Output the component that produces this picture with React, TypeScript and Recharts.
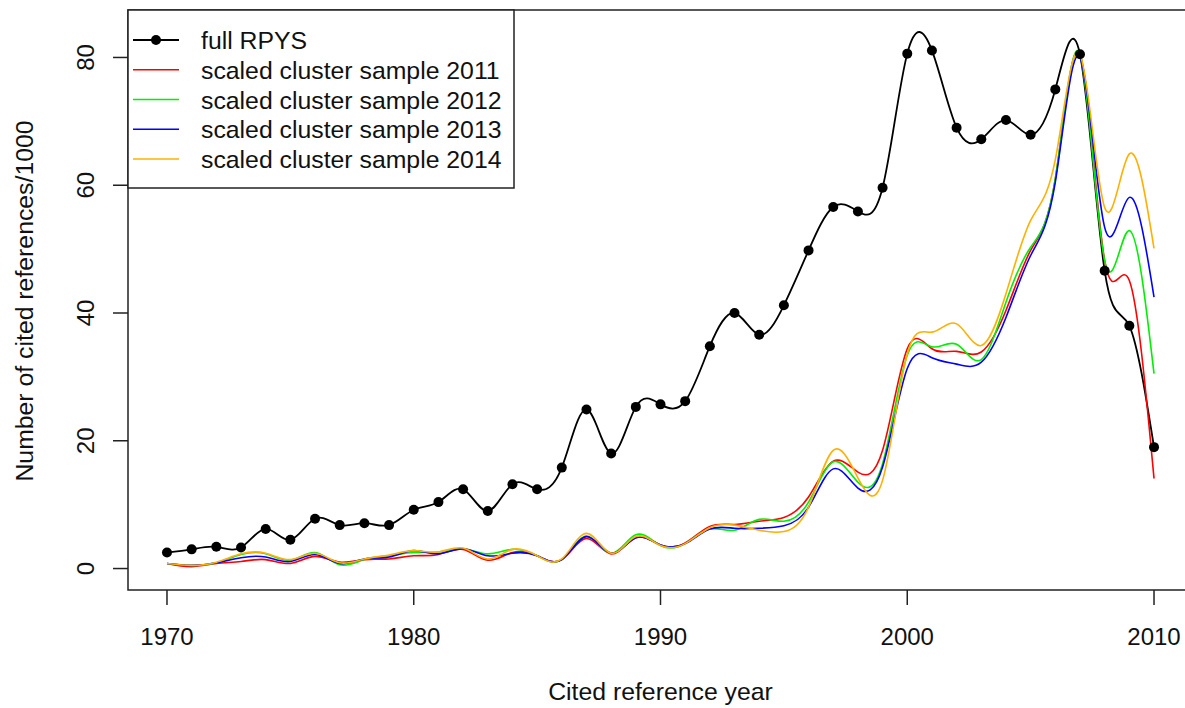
import { LineChart, Line, XAxis, YAxis, Legend, ReferenceArea } from 'recharts';

const years = [
  1970, 1971, 1972, 1973, 1974, 1975, 1976, 1977, 1978, 1979,
  1980, 1981, 1982, 1983, 1984, 1985, 1986, 1987, 1988, 1989,
  1990, 1991, 1992, 1993, 1994, 1995, 1996, 1997, 1998, 1999,
  2000, 2001, 2002, 2003, 2004, 2005, 2006, 2007, 2008, 2009, 2010,
];

// full RPYS (black, with points)
const fullRpys = [
  2.5, 3.0, 3.4, 3.3, 6.2, 4.5, 7.8, 6.8, 7.1, 6.8,
  9.2, 10.4, 12.4, 9.0, 13.2, 12.4, 15.8, 24.9, 18.0, 25.3,
  25.7, 26.2, 34.8, 40.0, 36.6, 41.2, 49.8, 56.6, 55.9, 59.6,
  80.6, 81.1, 69.0, 67.2, 70.2, 67.9, 75.0, 80.5, 46.6, 38.0, 19.0,
];

const sample2011 = [
  0.8, 0.3, 0.8, 1.1, 1.4, 0.8, 1.9, 1.0, 1.4, 1.5,
  2.0, 2.2, 3.0, 1.3, 2.5, 2.0, 1.4, 4.7, 2.3, 4.8,
  3.7, 4.0, 6.6, 6.9, 7.4, 8.0, 11.2, 16.8, 15.1, 18.5,
  34.4, 34.4, 34.0, 33.9, 40.4, 49.8, 61.0, 80.5, 48.2, 45.1, 14.1,
];

const sample2012 = [
  0.8, 0.5, 0.9, 2.2, 2.3, 1.3, 2.5, 0.6, 1.4, 2.0,
  2.5, 2.6, 3.1, 2.3, 3.0, 2.0, 1.4, 5.1, 2.4, 5.3,
  3.6, 3.9, 6.2, 6.0, 7.7, 7.4, 10.4, 16.7, 13.5, 16.4,
  33.4, 34.7, 35.1, 32.7, 41.7, 50.3, 61.0, 80.5, 48.2, 52.9, 30.5,
];

const sample2013 = [
  0.8, 0.5, 0.9, 1.7, 1.8, 1.1, 2.2, 0.8, 1.5, 1.8,
  2.8, 2.3, 3.1, 2.0, 2.4, 2.0, 1.4, 5.0, 2.4, 4.8,
  3.7, 3.9, 6.2, 6.3, 6.3, 6.7, 9.6, 15.6, 12.6, 15.9,
  31.3, 33.0, 32.0, 32.3, 39.3, 49.0, 60.5, 80.0, 53.4, 58.1, 42.5,
];

const sample2014 = [
  0.8, 0.5, 1.0, 2.3, 2.4, 1.4, 2.4, 0.9, 1.5, 2.1,
  2.8, 2.6, 3.2, 1.5, 3.0, 2.0, 1.5, 5.5, 2.4, 5.0,
  3.6, 3.9, 6.4, 6.8, 6.0, 5.8, 9.6, 18.5, 14.2, 13.8,
  33.6, 37.0, 38.3, 34.9, 43.0, 54.5, 64.0, 80.5, 56.5, 64.9, 50.1,
];

const xTicks = [1970, 1980, 1990, 2000, 2010];
const yTicks = [0, 20, 40, 60, 80];

const xDomain = [1968.42, 2011.58];
const yDomain = [-3.36, 87.43];

const series = [
  { key: 'full', name: 'full RPYS', color: '#000000' },
  { key: 's2011', name: 'scaled cluster sample 2011', color: '#ff0000' },
  { key: 's2012', name: 'scaled cluster sample 2012', color: '#00ee00' },
  { key: 's2013', name: 'scaled cluster sample 2013', color: '#0000ff' },
  { key: 's2014', name: 'scaled cluster sample 2014', color: '#ffb000' },
];

const chartData = years.map((year, i) => ({
  year,
  full: fullRpys[i],
  s2011: sample2011[i],
  s2012: sample2012[i],
  s2013: sample2013[i],
  s2014: sample2014[i],
}));

const FONT = '"Liberation Sans", Arial, Helvetica, sans-serif';

function XTick({ x, y, payload }: any) {
  return (
    <text x={x} y={y} dy="0.71em" textAnchor="middle" fontSize={24} fill="#111" fontFamily={FONT}>
      {payload.value}
    </text>
  );
}

function YTick({ x, y, payload }: any) {
  return (
    <text x={x} y={y} transform={`rotate(-90 ${x} ${y})`} textAnchor="middle" fontSize={24} fill="#111" fontFamily={FONT}>
      {payload.value}
    </text>
  );
}

function LegendBox() {
  return (
    <svg width={388} height={180} style={{ display: 'block' }}>
      <rect x={1} y={1} width={386} height={178} fill="#fff" stroke="#222" strokeWidth={1.5} />
      {series.map((s, i) => {
        const cy = 31 + i * 29.75;
        return (
          <g key={s.key}>
            <line x1={6} x2={52} y1={cy} y2={cy} stroke={s.color} strokeWidth={s.key === 'full' ? 1.8 : 1.6} />
            {s.key === 'full' && <circle cx={29} cy={cy} r={5} fill="#000" />}
            <text x={74} y={cy + 9} fontSize={24.8} fill="#111" fontFamily={FONT}>
              {s.name}
            </text>
          </g>
        );
      })}
    </svg>
  );
}

export default function App() {
  return (
    <div style={{ position: 'absolute', left: 0, top: 0, width: 1185, height: 708, overflow: 'hidden', background: '#fff', fontFamily: FONT }}>
      <LineChart width={1200} height={708} data={chartData} margin={{ top: 10, right: 7, bottom: 0, left: 0 }}>
        <XAxis
          dataKey="year"
          type="number"
          domain={xDomain}
          ticks={xTicks}
          allowDataOverflow
          height={118}
          axisLine={false}
          tickSize={15}
          tickMargin={23}
          tickLine={{ stroke: '#222', strokeWidth: 1.5 }}
          tick={<XTick />}
          label={{ value: 'Cited reference year', position: 'insideBottom', offset: 8, fontSize: 24.8, fill: '#111', fontFamily: FONT }}
        />
        <YAxis
          type="number"
          domain={yDomain}
          ticks={yTicks}
          allowDataOverflow
          width={128}
          axisLine={false}
          tickSize={15}
          tickMargin={19}
          tickLine={{ stroke: '#222', strokeWidth: 1.5 }}
          tick={<YTick />}
          label={{
            content: () => (
              <text x={33} y={301} transform="rotate(-90 33 301)" textAnchor="middle" fontSize={24.8} fill="#111" fontFamily={FONT}>
                Number of cited references/1000
              </text>
            ),
          }}
        />
        <ReferenceArea
          x1={xDomain[0]}
          x2={xDomain[1]}
          y1={yDomain[0]}
          y2={yDomain[1]}
          fill="none"
          stroke="#222"
          strokeWidth={1.5}
          ifOverflow="visible"
        />
        <Line
          type="natural"
          dataKey="full"
          name="full RPYS"
          stroke="#000"
          strokeWidth={1.8}
          dot={{ r: 5, fill: '#000', stroke: '#000', strokeWidth: 0 }}
          activeDot={false}
          isAnimationActive={false}
        />
        {series.slice(1).map((s) => (
          <Line
            key={s.key}
            type="natural"
            dataKey={s.key}
            name={s.name}
            stroke={s.color}
            strokeWidth={1.6}
            dot={false}
            activeDot={false}
            isAnimationActive={false}
          />
        ))}
        <Legend
          layout="vertical"
          align="center"
          verticalAlign="middle"
          wrapperStyle={{ left: 127, top: 9, width: 388, height: 180 }}
          content={() => <LegendBox />}
        />
      </LineChart>
    </div>
  );
}
